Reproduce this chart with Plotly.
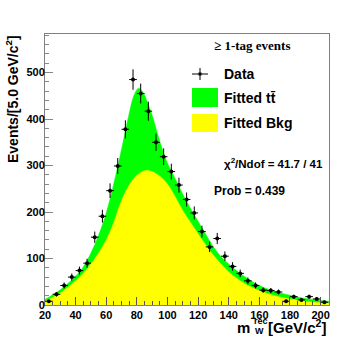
import numpy as np
import plotly.graph_objects as go

# data histogram (5 GeV bins)
bin_centers = [22.5, 27.5, 32.5, 37.5, 42.5, 47.5, 52.5, 57.5, 62.5, 67.5,
               72.5, 77.5, 82.5, 87.5, 92.5, 97.5, 102.5, 107.5, 112.5, 117.5,
               122.5, 127.5, 132.5, 137.5, 142.5, 147.5, 152.5, 157.5, 162.5, 167.5,
               172.5, 177.5, 182.5, 187.5, 192.5, 197.5, 202.5]
events = [8, 23, 42, 60, 74, 90, 146, 191, 246, 299,
          378, 485, 455, 417, 350, 319, 287, 258, 227, 198,
          158, 125, 143, 105, 83, 68, 52, 42, 32, 31,
          28, 8, 18, 11, 18, 13, 6]

# fitted total (ttbar + bkg)
total_x = [20, 25, 30, 35, 40, 45, 50, 55, 60, 65, 70, 75, 78, 81, 84, 87, 90, 95,
           100, 105, 110, 115, 120, 125, 130, 135, 140, 145, 150, 155, 160, 165,
           170, 175, 180, 185, 190, 195, 200, 205.5]
total_y = [12, 22, 33, 46, 62, 82, 112, 150, 198, 262, 335, 412, 450, 466, 458, 435, 408, 352,
           305, 272, 238, 208, 180, 152, 125, 104, 88, 74, 62, 51, 42, 35,
           30, 25, 21, 17, 14, 12, 10, 8]

# fitted background
bkg_x = [20, 25, 30, 35, 40, 45, 50, 55, 60, 65, 70, 75, 80, 85, 88, 90, 95,
         100, 105, 110, 115, 120, 125, 130, 135, 140, 145, 150, 155, 160, 165,
         170, 175, 180, 185, 190, 195, 200, 205.5]
bkg_y = [8, 16, 26, 38, 52, 68, 88, 112, 140, 178, 225, 258, 279, 289, 289, 287, 277,
         260, 233, 203, 178, 153, 129, 107, 88, 71, 58, 47, 38, 31, 25,
         20, 16, 13, 10, 8, 6, 5, 4]

x_ticks = [20, 40, 60, 80, 100, 120, 140, 160, 180, 200]
y_ticks = [0, 100, 200, 300, 400, 500]

W, H = 354, 340
L, R, T, B = 45, 25, 34, 35
pw, ph = W - L - R, H - T - B


def px(x):
    return (x - L) / pw


def py(y):
    return (H - B - y) / ph


fig = go.Figure()
fig.add_trace(go.Scatter(x=total_x, y=total_y, mode='lines', line=dict(color='#00ff00', width=0.5, shape='spline'),
                         fill='tozeroy', fillcolor='#00ff00', hoverinfo='skip'))
fig.add_trace(go.Scatter(x=bkg_x, y=bkg_y, mode='lines', line=dict(color='#ffff00', width=0.5, shape='spline'),
                         fill='tozeroy', fillcolor='#ffff00', hoverinfo='skip'))
fig.add_trace(go.Scatter(
    x=bin_centers, y=events, mode='markers',
    marker=dict(color='black', size=4),
    error_y=dict(type='data', array=list(np.sqrt(events)), color='black', thickness=1, width=0),
    error_x=dict(type='constant', value=2.5, color='black', thickness=1, width=0)))

tickfont = dict(family='Liberation Sans', size=11, color='black', weight='bold')
fig.update_xaxes(range=[20, 205.5], tickvals=x_ticks, ticks='inside', ticklen=8, tickcolor='#555',
                 minor=dict(dtick=5, ticks='inside', ticklen=4, tickcolor='#555'),
                 showline=True, linecolor='#808080', mirror=True, showgrid=False, zeroline=False,
                 tickfont=tickfont)
fig.update_yaxes(range=[0, 583], tickvals=y_ticks, ticks='inside', ticklen=8, tickcolor='#888',
                 minor=dict(dtick=20, ticks='inside', ticklen=4, tickcolor='#888'),
                 showline=True, linecolor='#808080', mirror=True, showgrid=False, zeroline=False,
                 tickfont=tickfont, ticklabelstandoff=-3)

bold = dict(family='Liberation Sans', color='black', weight='bold')
ann = []
# y title
ann.append(dict(x=px(12), y=py(33), xref='paper', yref='paper', textangle=-90,
                text='Events/[5.0 GeV/c<sup>2</sup>]', showarrow=False,
                xanchor='center', yanchor='top', font=dict(size=14, **bold)))
# x title
ann.append(dict(x=px(252), y=py(327), xref='paper', yref='paper', text='m', showarrow=False,
                xanchor='right', yanchor='middle', font=dict(size=15, **bold)))
ann.append(dict(x=px(252), y=py(321), xref='paper', yref='paper', text='rec', showarrow=False,
                xanchor='left', yanchor='middle', font=dict(size=9, **bold)))
ann.append(dict(x=px(253), y=py(331), xref='paper', yref='paper', text='W', showarrow=False,
                xanchor='left', yanchor='middle', font=dict(size=9, **bold)))
ann.append(dict(x=px(328), y=py(326), xref='paper', yref='paper', text='[GeV/c<sup>2</sup>]', showarrow=False,
                xanchor='right', yanchor='middle', font=dict(size=15, **bold)))
# legend
ann.append(dict(x=px(252), y=py(45), xref='paper', yref='paper', text='\u2265 1-tag events', showarrow=False,
                xanchor='center', yanchor='middle',
                font=dict(family='Liberation Serif', size=13, color='black', weight='bold')))
for label, yy in [('Data', 74), ('Fitted tt\u0304', 98), ('Fitted Bkg', 123)]:
    ann.append(dict(x=px(222), y=py(yy), xref='paper', yref='paper', text=label, showarrow=False,
                    xanchor='left', yanchor='middle', font=dict(size=14, **bold)))
ann.append(dict(x=px(222), y=py(163), xref='paper', yref='paper',
                text='\u03c7<sup>2</sup>/Ndof = 41.7 / 41', showarrow=False,
                xanchor='left', yanchor='middle', font=dict(size=11.5, **bold)))
ann.append(dict(x=px(212), y=py(191), xref='paper', yref='paper', text='Prob = 0.439', showarrow=False,
                xanchor='left', yanchor='middle', font=dict(size=12, **bold)))

shapes = [
    dict(type='line', xref='paper', yref='paper', x0=px(192), x1=px(208), y0=py(74), y1=py(74),
         line=dict(color='black', width=1)),
    dict(type='line', xref='paper', yref='paper', x0=px(200), x1=px(200), y0=py(68), y1=py(80),
         line=dict(color='black', width=1)),
    dict(type='rect', xref='paper', yref='paper', x0=px(198.5), x1=px(201.5), y0=py(72.5), y1=py(75.5),
         fillcolor='black', line=dict(width=0)),
    dict(type='rect', xref='paper', yref='paper', x0=px(192), x1=px(218), y0=py(88), y1=py(107),
         fillcolor='#00ff00', line=dict(width=0)),
    dict(type='rect', xref='paper', yref='paper', x0=px(192), x1=px(218), y0=py(114), y1=py(132),
         fillcolor='#ffff00', line=dict(width=0)),
]

fig.update_layout(width=W, height=H, margin=dict(l=L, r=R, t=T, b=B),
                  paper_bgcolor='white', plot_bgcolor='white', showlegend=False,
                  annotations=ann, shapes=shapes)
fig.write_html("out.html", config={'displayModeBar': False},
               post_script="document.body.style.margin='0';")
